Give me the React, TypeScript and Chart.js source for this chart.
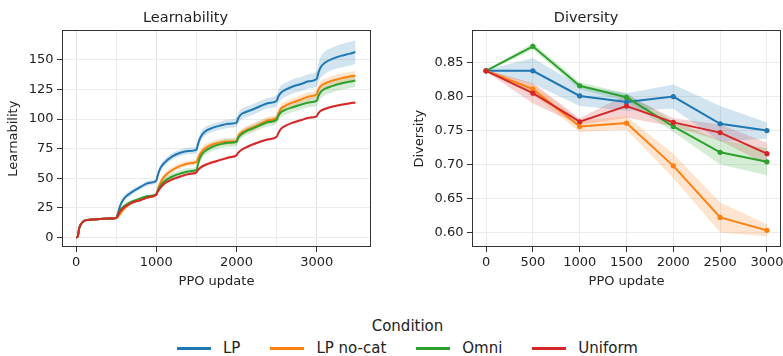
import React, { useEffect, useRef } from 'react';
import { Chart, registerables } from 'chart.js';

Chart.register(...registerables);

// ---------- data ----------
const conditions = ['LP', 'LP no-cat', 'Omni', 'Uniform'];
const colors = ['#1f77b4', '#ff7f0e', '#2ca02c', '#d62728'];

// Learnability (left panel)
const learnX = [0, 20, 40, 70, 100, 150, 200, 300, 400, 500, 520, 550, 600, 700, 800, 900, 1000, 1020, 1050, 1100, 1200, 1300, 1400, 1500, 1520, 1550, 1600, 1700, 1800, 1900, 2000, 2020, 2050, 2100, 2200, 2300, 2400, 2500, 2520, 2550, 2600, 2700, 2800, 2900, 3000, 3020, 3050, 3100, 3200, 3300, 3400, 3480];
const learnLP = [0, 0.5, 8, 12, 14, 14.8, 15.2, 15.6, 16, 16.5, 20, 27, 33, 38.5, 42.5, 46, 48, 53, 58.5, 63, 68.5, 71.5, 73, 74, 79, 84.5, 89, 92.5, 94.5, 96, 97, 100.5, 103.5, 105.5, 108, 111, 113.5, 115.5, 119, 122, 124.3, 127.5, 129.5, 131.8, 134, 139, 144, 147.5, 151, 153.3, 155, 156.5];
const learnNoCat = [0, 0.5, 8, 12, 14, 14.8, 15.2, 15.6, 16, 16.5, 17.5, 20, 24.5, 29.5, 32, 34, 36, 41, 46, 51.5, 57, 60.5, 62.5, 63.8, 67, 71, 75, 78.5, 80.3, 81, 81.5, 85.5, 88, 90, 93, 96, 99, 101, 104.5, 108.5, 111, 114, 116.5, 119, 121, 125, 128, 130, 132.5, 134.3, 135.7, 136.5];
const learnOmni = [0, 0.5, 8, 12, 14, 14.8, 15.2, 15.6, 16, 16.5, 19, 23, 26.5, 30.5, 33, 35, 36.5, 40, 43.5, 47.5, 51.5, 54, 55.8, 57, 62, 68, 72.5, 76.5, 78.8, 80, 80.8, 84, 86.5, 89, 92, 95, 97.5, 99.5, 102.5, 105.5, 107.5, 110, 112, 114, 115.5, 119.5, 123, 125.5, 128, 130, 131.5, 132.5];
const learnUniform = [0, 0.5, 8, 12, 14, 14.8, 15.2, 15.6, 16, 16.5, 18.5, 22, 25.5, 29.5, 31.5, 34, 36.3, 39, 42, 45.5, 49, 51.5, 53.5, 55, 57, 59, 61, 63.5, 65.5, 67.5, 69.5, 71.5, 73.5, 75.5, 78.5, 81, 83, 85, 88, 91.5, 94, 97, 99, 101, 102.5, 105, 107, 108.5, 110.5, 112, 113.2, 114];
const learnLPStd = [0, 0.2, 0.5, 0.5, 0.5, 0.5, 0.6, 0.6, 0.7, 0.8, 1.5, 2.5, 2.5, 2.2, 2, 2, 2, 2.5, 2.8, 2.8, 2.8, 2.8, 2.8, 3, 3.5, 4, 3.8, 3.5, 3.5, 3.5, 3.8, 4.5, 4.5, 4.5, 4.5, 4.5, 4.5, 4.8, 5.5, 6, 6, 6, 6, 6, 6.5, 8, 9, 9.5, 9.5, 9.8, 10, 10];
const learnNoCatStd = [0, 0.2, 0.5, 0.5, 0.5, 0.5, 0.5, 0.5, 0.6, 0.7, 1.5, 2, 2, 1.5, 1.2, 1.2, 1.2, 2, 2.5, 2.5, 2.5, 2.3, 2.2, 2.2, 3, 3.5, 3.5, 3, 2.8, 2.8, 2.8, 3, 3, 3, 3, 3, 3, 3, 3.5, 3.5, 3.5, 3.5, 3.5, 3.5, 3.5, 4, 4, 4, 4, 4, 4, 4];
const learnOmniStd = [0, 0.2, 0.5, 0.5, 0.5, 0.5, 0.5, 0.5, 0.6, 0.7, 1.5, 1.8, 1.8, 1.5, 1.2, 1.2, 1.2, 2, 2.5, 2.8, 2.8, 2.8, 2.8, 3, 3.5, 4, 3.8, 3.5, 3.5, 3.5, 3.5, 3.5, 3.5, 3.5, 3.5, 3.5, 3.5, 3.5, 4, 4, 4, 4, 4, 4, 4, 5, 5.5, 5.5, 5.5, 5.5, 5.5, 5.5];
const learnUniformStd = [0, 0.2, 0.5, 0.5, 0.5, 0.5, 0.5, 0.5, 0.6, 0.7, 1, 1, 1, 1, 1, 1, 1, 1, 1.2, 1.2, 1.2, 1.2, 1.2, 1.5, 1.5, 1.5, 1.5, 1.2, 1.2, 1.2, 1.2, 1, 1, 1, 1, 1, 1, 1.2, 1, 1, 1, 1, 1, 1, 1, 1, 1, 1, 1, 1, 1, 1];
const learnXTicks = [0, 500, 1000, 1500, 2000, 2500, 3000];
const learnYTicks = [0, 25, 50, 75, 100, 125, 150];

// Diversity (right panel)
const divX = [0, 500, 1000, 1500, 2000, 2500, 3000];
const divLP = [0.838, 0.838, 0.801, 0.792, 0.8, 0.76, 0.75];
const divNoCat = [0.838, 0.811, 0.756, 0.761, 0.698, 0.622, 0.603];
const divOmni = [0.838, 0.874, 0.816, 0.799, 0.756, 0.718, 0.704];
const divUniform = [0.838, 0.805, 0.763, 0.786, 0.762, 0.747, 0.716];
const divLPStd = [0.001, 0.019, 0.015, 0.013, 0.018, 0.026, 0.012];
const divNoCatStd = [0.001, 0.008, 0.008, 0.01, 0.018, 0.022, 0.009];
const divOmniStd = [0.001, 0.005, 0.005, 0.006, 0.008, 0.018, 0.02];
const divUniformStd = [0.001, 0.015, 0.005, 0.017, 0.006, 0.012, 0.016];
const divXTicks = [0, 500, 1000, 1500, 2000, 2500, 3000];
const divYTicks = [0.6, 0.65, 0.7, 0.75, 0.8, 0.85];

// ---------- helpers ----------
const TEXT = '#222222';
const FONT = "'DejaVu Sans', sans-serif";

function rgba(hex: string, a: number) {
  const n = parseInt(hex.slice(1), 16);
  return `rgba(${(n >> 16) & 255},${(n >> 8) & 255},${n & 255},${a})`;
}

function buildDatasets(xs: number[], series: number[][], stds: number[][], points: boolean, mono: boolean) {
  const bands: any[] = [];
  const lines: any[] = [];
  const interp = mono ? 'monotone' : 'default';
  series.forEach((m, i) => {
    const col = colors[i];
    bands.push({
      data: xs.map((x, j) => ({ x, y: m[j] - stds[i][j] })),
      borderWidth: 0, borderColor: 'rgba(0,0,0,0)', pointRadius: 0, fill: false,
      order: 20 + i, cubicInterpolationMode: interp,
    });
    bands.push({
      data: xs.map((x, j) => ({ x, y: m[j] + stds[i][j] })),
      borderWidth: 0, borderColor: 'rgba(0,0,0,0)', pointRadius: 0, fill: '-1',
      backgroundColor: rgba(col, 0.2), order: 20 + i, cubicInterpolationMode: interp,
    });
  });
  series.forEach((m, i) => {
    const col = colors[i];
    lines.push({
      label: conditions[i],
      data: xs.map((x, j) => ({ x, y: m[j] })),
      borderColor: col, backgroundColor: col, borderWidth: 2,
      pointRadius: points ? 2.6 : 0, pointBorderWidth: 0, pointBackgroundColor: col,
      fill: false, order: 4 - i, cubicInterpolationMode: interp,
    });
  });
  return [...bands, ...lines];
}

const boxPlugin = {
  id: 'axesBox',
  afterDraw(chart: any) {
    const { left, top, right, bottom } = chart.chartArea;
    const ctx = chart.ctx;
    ctx.save();
    ctx.strokeStyle = '#333333';
    ctx.lineWidth = 1;
    const l = Math.round(left) + 0.5, t = Math.round(top) + 0.5;
    const r = Math.round(right) - 0.5, b = Math.round(bottom) - 0.5;
    ctx.strokeRect(l, t, r - l, b - t);
    ctx.restore();
  },
};

function makeOptions(cfg: any) {
  return {
    responsive: false,
    animation: false,
    devicePixelRatio: 1,
    layout: { padding: { left: 0, right: cfg.padRight, top: 0, bottom: 0 } },
    plugins: {
      legend: { display: false },
      tooltip: { enabled: false },
      filler: { drawTime: 'beforeDatasetsDraw' },
      title: {
        display: true, text: cfg.title, color: TEXT,
        font: { family: FONT, size: 14.5, weight: 'normal' },
        padding: { top: 10, bottom: 3 },
      },
    },
    scales: {
      x: {
        type: 'linear', min: cfg.xMin, max: cfg.xMax,
        afterFit: (s: any) => { s.height = 53; },
        afterBuildTicks: (s: any) => { s.ticks = cfg.xTicks.map((v: number) => ({ value: v })); },
        ticks: {
          autoSkip: false, maxRotation: 0, minRotation: 0, padding: 3, color: TEXT,
          font: { family: FONT, size: 13 },
          callback: cfg.xLabel,
        },
        grid: {
          color: cfg.xGridColor, tickColor: cfg.xTickColor, tickLength: 5, lineWidth: 1,
        },
        border: { display: false },
        title: {
          display: true, text: 'PPO update', color: TEXT,
          font: { family: FONT, size: 13 }, padding: { top: 0, bottom: 11 },
        },
      },
      y: {
        type: 'linear', min: cfg.yMin, max: cfg.yMax,
        afterFit: (s: any) => { s.width = cfg.yWidth; },
        afterBuildTicks: (s: any) => { s.ticks = cfg.yTicks.map((v: number) => ({ value: v })); },
        ticks: {
          autoSkip: false, padding: 3.5, color: TEXT,
          font: { family: FONT, size: 13 },
          callback: cfg.yLabel,
        },
        grid: { color: '#ebebeb', tickColor: '#333333', tickLength: 5, lineWidth: 1 },
        border: { display: false },
        title: {
          display: true, text: cfg.yTitle, color: TEXT,
          font: { family: FONT, size: 13 }, padding: { top: cfg.yTitlePad, bottom: 0 },
        },
      },
    },
  };
}

export default function App() {
  const leftRef = useRef<HTMLCanvasElement>(null);
  const rightRef = useRef<HTMLCanvasElement>(null);

  useEffect(() => {
    Chart.defaults.font.family = FONT;
    const left = new Chart(leftRef.current as HTMLCanvasElement, {
      type: 'line',
      data: {
        datasets: buildDatasets(
          learnX,
          [learnLP, learnNoCat, learnOmni, learnUniform],
          [learnLPStd, learnNoCatStd, learnOmniStd, learnUniformStd],
          false, true,
        ),
      },
      options: makeOptions({
        title: 'Learnability', padRight: 20,
        xMin: -175, xMax: 3675, xTicks: learnXTicks,
        xLabel: (v: any) => (Number(v) % 1000 === 0 ? String(v) : ''),
        xGridColor: (c: any) => (c.tick && c.tick.value % 1000 === 0 ? '#e0e0e0' : '#efefef'),
        xTickColor: (c: any) => (c.tick && c.tick.value % 1000 === 0 ? '#333333' : 'rgba(0,0,0,0)'),
        yMin: -8, yMax: 174.8, yTicks: learnYTicks, yWidth: 62,
        yLabel: (v: any) => String(v), yTitle: 'Learnability', yTitlePad: 6,
      }) as any,
      plugins: [boxPlugin],
    });
    const right = new Chart(rightRef.current as HTMLCanvasElement, {
      type: 'line',
      data: {
        datasets: buildDatasets(
          divX,
          [divLP, divNoCat, divOmni, divUniform],
          [divLPStd, divNoCatStd, divOmniStd, divUniformStd],
          true, false,
        ),
      },
      options: makeOptions({
        title: 'Diversity', padRight: 10,
        xMin: -150, xMax: 3150, xTicks: divXTicks,
        xLabel: (v: any) => String(v),
        xGridColor: '#ebebeb',
        xTickColor: '#333333',
        yMin: 0.5785, yMax: 0.8975, yTicks: divYTicks, yWidth: 81,
        yLabel: (v: any) => Number(v).toFixed(2), yTitle: 'Diversity', yTitlePad: 21,
      }) as any,
      plugins: [boxPlugin],
    });
    return () => {
      left.destroy();
      right.destroy();
    };
  }, []);

  const legendText: React.CSSProperties = { fontFamily: FONT, fontSize: 15, color: TEXT, whiteSpace: 'nowrap' };

  return (
    <div style={{ position: 'fixed', left: 0, top: 0, width: 783, height: 356, overflow: 'hidden', background: '#ffffff' }}>
      <canvas ref={leftRef} width={391} height={300} style={{ position: 'absolute', left: 0, top: 0, width: 391, height: 300 }} />
      <canvas ref={rightRef} width={400} height={300} style={{ position: 'absolute', left: 391, top: 0, width: 400, height: 300 }} />
      <div style={{ position: 'absolute', left: 0, width: 815, top: 316, height: 20, lineHeight: '20px', textAlign: 'center', ...legendText }}>
        Condition
      </div>
      <div style={{ position: 'absolute', left: 0, width: 815, top: 338, height: 20, display: 'flex', justifyContent: 'center', alignItems: 'center', gap: 30 }}>
        {conditions.map((c, i) => (
          <div key={c} style={{ display: 'flex', alignItems: 'center' }}>
            <span style={{ display: 'inline-block', width: 34, height: 3, background: colors[i], marginRight: 12 }} />
            <span style={{ ...legendText, lineHeight: '20px' }}>{c}</span>
          </div>
        ))}
      </div>
    </div>
  );
}
